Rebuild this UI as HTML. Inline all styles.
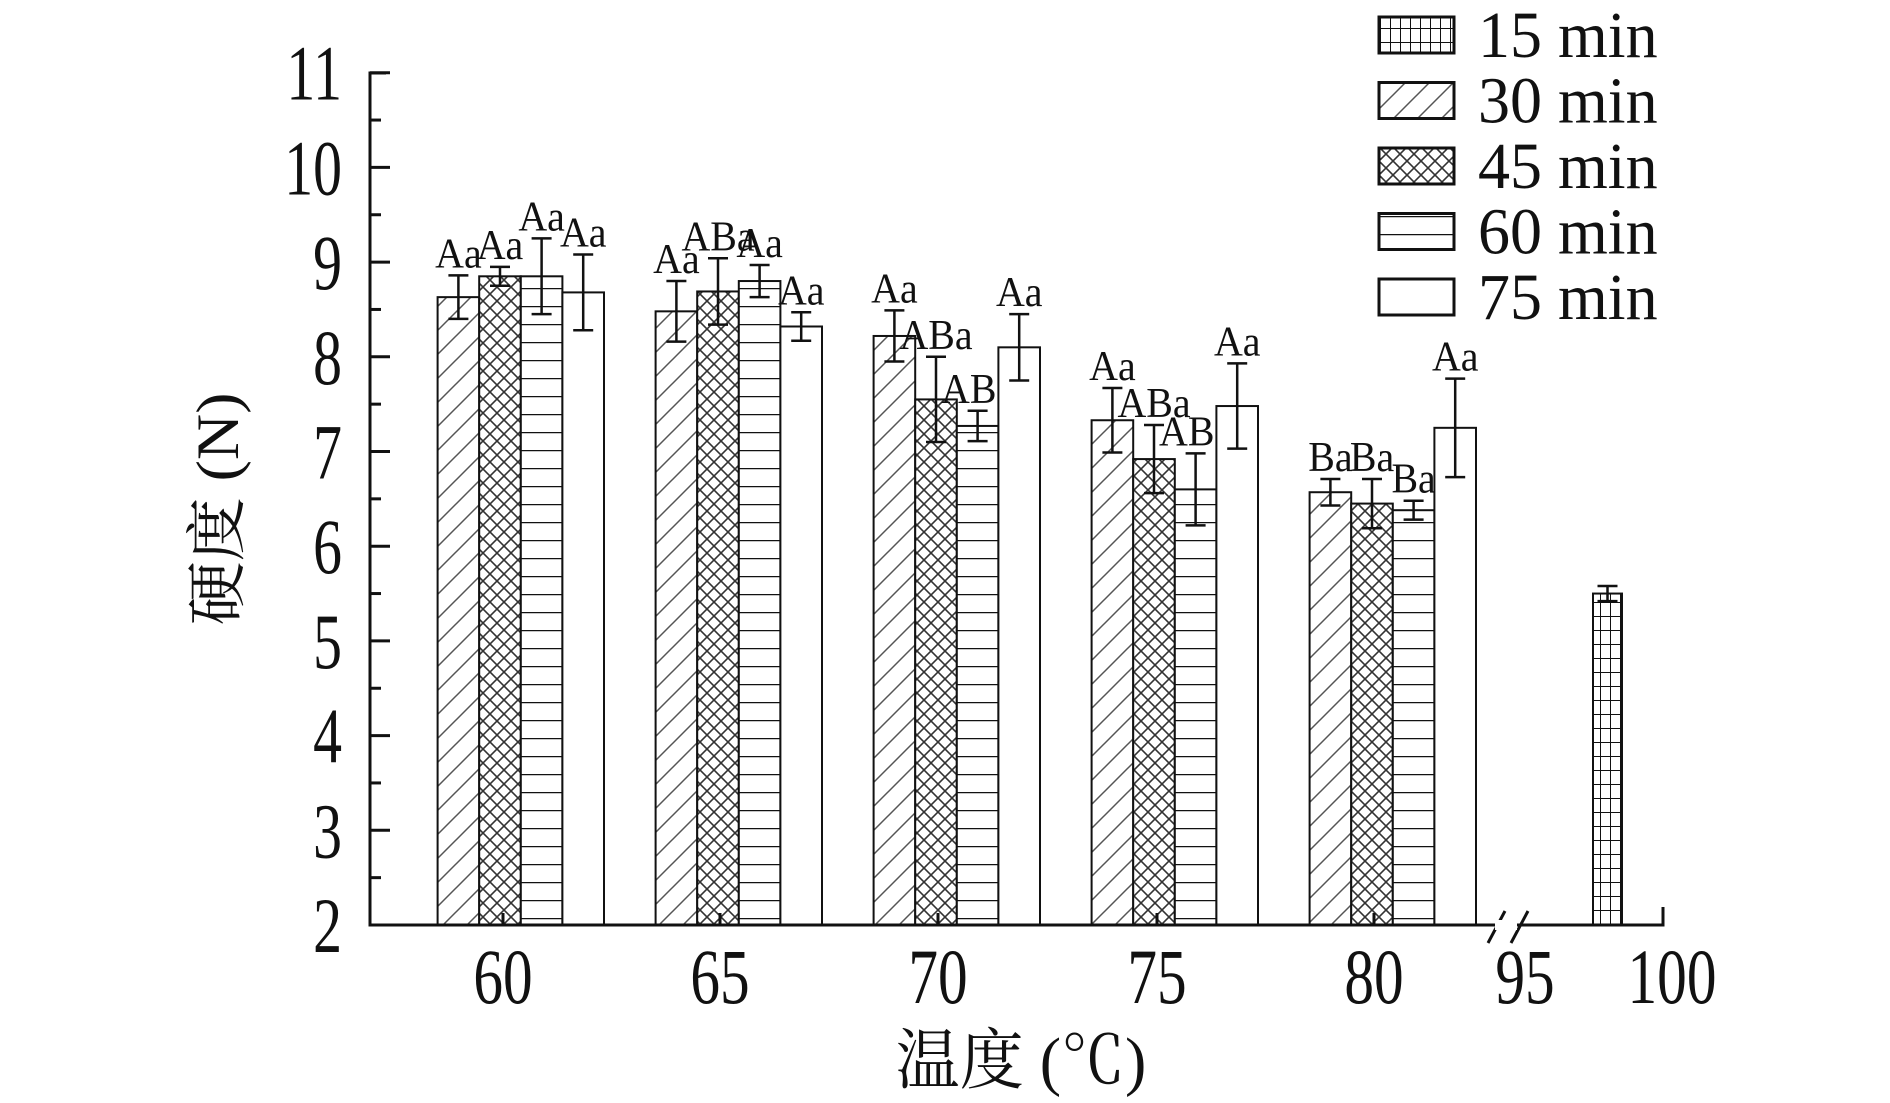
<!DOCTYPE html>
<html><head><meta charset="utf-8"><style>
html,body{margin:0;padding:0;background:#fff}
svg{display:block;font-family:"Liberation Serif","Noto Serif CJK SC",serif}
</style></head><body>
<svg id="chart" width="1890" height="1103" viewBox="0 0 1890 1103" xmlns="http://www.w3.org/2000/svg">
<defs>
<pattern id="p15" patternUnits="userSpaceOnUse" width="10" height="14"><rect width="10" height="14" fill="#fff"/><path d="M0 0V14M0 0H10" stroke="#111" stroke-width="2"/></pattern>
<pattern id="p30" patternUnits="userSpaceOnUse" width="24" height="24"><rect width="24" height="24" fill="#fff"/><path d="M0 24L24 0M-6 6L6 -6M18 30L30 18" stroke="#555" stroke-width="1.5"/></pattern>
<pattern id="p45" patternUnits="userSpaceOnUse" width="14" height="14"><rect width="14" height="14" fill="#fff"/><path d="M0 0L14 14M14 0L0 14" stroke="#333" stroke-width="1.6"/></pattern>
<pattern id="p60" patternUnits="userSpaceOnUse" width="10" height="18"><rect width="10" height="18" fill="#fff"/><path d="M0 0H10" stroke="#111" stroke-width="2.5"/></pattern>
<pattern id="p75" patternUnits="userSpaceOnUse" width="10" height="10"><rect width="10" height="10" fill="#fff"/></pattern>
</defs>
<g id="plot"></g>
</svg>
<script>
const categories=["60","65","70","75","80"];
const series=["15 min","30 min","45 min","60 min","75 min"];
const v30=[8.63,8.48,8.22,7.33,6.57];
const e30=[0.23,0.32,0.27,0.34,0.14];
const v45=[8.85,8.69,7.55,6.92,6.45];
const e45=[0.10,0.35,0.45,0.36,0.26];
const v60=[8.85,8.80,7.27,6.60,6.38];
const e60=[0.40,0.17,0.16,0.38,0.10];
const v75=[8.68,8.32,8.10,7.48,7.25];
const e75=[0.40,0.15,0.35,0.45,0.52];
const l30=["Aa","Aa","Aa","Aa","Ba"];
const l45=["Aa","ABa","ABa","ABa","Ba"];
const l60=["Aa","Aa","ABa","ABa","Ba"];
const l75=["Aa","Aa","Aa","Aa","Aa"];
const v100=5.5, e100=0.08;
const yTicks=[2,3,4,5,6,7,8,9,10,11];
const xLabels=["60","65","70","75","80","95","100"];

const NS="http://www.w3.org/2000/svg";
const g=document.getElementById('plot');
const X0=370,XR=1663,Y2=925,UNIT=94.7;
const y=v=>Y2-(v-2)*UNIT;
const groupStart=i=>396+218*i;
const SW=41.6;
function mk(t,a,p){const e=document.createElementNS(NS,t);for(const k in a)e.setAttribute(k,a[k]);(p||g).appendChild(e);return e;}
function txt(s,a){const e=mk('text',a);e.textContent=s;return e;}

function bar(x,w,v,err,pat,lab,name){
  const r=mk('rect',{x:x,y:y(v),width:w,height:Y2-y(v),fill:'url(#'+pat+')',stroke:'#111','stroke-width':2});
  
  
  const cx=x+w/2,t=y(v+err),b=y(v-err);
  const eb=mk('path',{d:`M${cx} ${t}V${b}M${cx-10} ${t}H${cx+10}M${cx-10} ${b}H${cx+10}`,stroke:'#111','stroke-width':2.5,fill:'none'});
  
  
  if(lab){const l=txt(lab,{x:0,y:0,'font-size':42,'text-anchor':'middle',fill:'#111',transform:`translate(${cx},${t-8}) scale(0.95,1)`});
    
    }
}
const sets=[[v30,e30,l30,'p30','30'],[v45,e45,l45,'p45','45'],[v60,e60,l60,'p60','60'],[v75,e75,l75,'p75','75']];
categories.forEach((c,i)=>{
  sets.forEach((s,j)=>{bar(groupStart(i)+SW*(j+1),SW,s[0][i],s[1][i],s[3],s[2][i],'bar-'+c+'-'+s[4]+'min');});
});
bar(1593,29,v100,e100,'p15',null,'bar-100-15min');

const ax=mk('path',{d:`M${X0+16} 73H${X0}V${Y2}H${XR}V${Y2-18}`,stroke:'#111','stroke-width':3,fill:'none'});


yTicks.forEach(t=>{
  mk('path',{d:`M${X0} ${y(t)}H${X0+20}`,stroke:'#111','stroke-width':3});
  if(t<11)mk('path',{d:`M${X0} ${y(t+0.5)}H${X0+11}`,stroke:'#111','stroke-width':3});
  const l=txt(String(t),{x:0,y:0,'font-size':78,'text-anchor':'end',fill:'#111',transform:`translate(342,${y(t)+27}) scale(0.74,1)`});
  
  
});
const xc=[503,720,938,1157,1374,1525,1672];
xLabels.forEach((s,i)=>{
  if(i<5)mk('path',{d:`M${xc[i]} ${Y2}V${Y2-12}`,stroke:'#111','stroke-width':3});
  const l=txt(s,{x:0,y:0,'font-size':78,'text-anchor':'middle',fill:'#111',transform:`translate(${xc[i]},1003) scale(0.76,1)`});
  
  
});
const br=mk('path',{d:'M1488 943L1505 911M1511 943L1528 911',stroke:'#111','stroke-width':3});


mk('rect',{x:1495,y:920,width:22,height:10,fill:'#fff'});

const yt=txt('硬度 (N)',{x:0,y:0,'font-size':64,'text-anchor':'middle',fill:'#111',transform:'translate(238,509) rotate(-90) scale(1,0.95)'});


const xt=txt('温度 (℃)',{x:0,y:0,'font-size':66,'text-anchor':'middle',fill:'#111',transform:'translate(1021,1083) scale(0.97,1)'});



const pats=['p15','p30','p45','p60','p75'];
series.forEach((s,i)=>{
  const top=17+65.5*i;
  const r=mk('rect',{x:1379,y:top,width:75,height:36,fill:'url(#'+pats[i]+')',stroke:'#111','stroke-width':3});
  
  
  const t=txt(s,{x:0,y:0,'font-size':66,fill:'#111',transform:`translate(1478,${top+40}) scale(0.97,1)`});
  
  
});
</script>
</body></html>
